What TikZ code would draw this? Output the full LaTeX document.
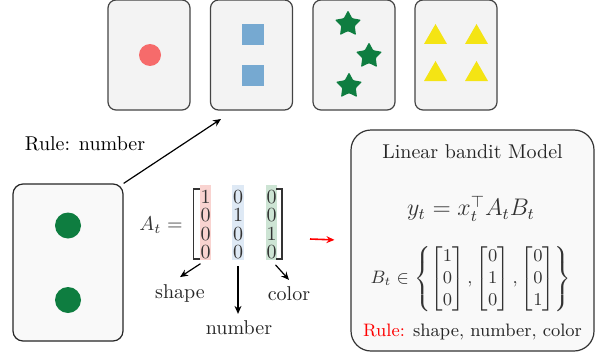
\documentclass[tikz,border=0pt]{standalone}
\usepackage{amsmath}
\usepackage{amssymb}
\usetikzlibrary{arrows.meta, positioning, calc, shapes.geometric}
\definecolor{cardfill}{HTML}{F3F3F3}
\definecolor{cardline}{HTML}{444444}
\definecolor{boxfill}{HTML}{F9F9F9}
\definecolor{cred}{HTML}{F66B6B}
\definecolor{cblue}{HTML}{76A9D1}
\definecolor{cgreen}{HTML}{0E7D40}
\definecolor{cyellow}{HTML}{F4E414}
\definecolor{hlred}{HTML}{F9D3D0}
\definecolor{hlblue}{HTML}{DEE9F5}
\definecolor{hlgreen}{HTML}{CDE4D4}
\definecolor{ctext}{HTML}{333333}

\tikzset{
  card/.style={draw=cardline, fill=cardfill, rounded corners=4pt, minimum width=41pt,
    minimum height=55pt, inner sep=0pt, line width=0.6pt},
  colhl/.style={minimum width=5.8pt, minimum height=37.5pt, inner sep=0pt},
  entry/.style={text=ctext, inner sep=0pt},
  greenstar/.style={star, star points=5, star point ratio=1.9, fill=cgreen,
    minimum size=13.6pt, inner sep=0pt, rounded corners=0.4pt},
  pointer/.style={-{Stealth[length=4pt, width=3.5pt]}, line width=0.6pt},
}

\begin{document}
\begin{tikzpicture}[x=0.5pt, y=-0.5pt]
  \useasboundingbox (0,0) rectangle (597,358);

  % Top row of cards
  \foreach \i/\x in {1/149, 2/251.5, 3/354, 4/456}{
    \node[card] (card\i) at (\x, 55) {};
  }
  % one red circle
  \fill[cred] (150,55) circle (11);
  % two blue squares
  \fill[cblue] (242,24) rectangle (264,45);
  \fill[cblue] (242,65) rectangle (264,86);
  % three green stars
  \foreach \n/\x/\y in {1/348/24, 2/369/56, 3/349/86}{
    \node[greenstar] (star\n) at (\x,\y) {};
  }
  % four yellow triangles
  \foreach \x in {435.5, 476.5}{
    \foreach \y in {34, 71}{
      \fill[cyellow] (\x-11.5,\y+10) -- (\x+11.5,\y+10) -- (\x,\y-10) -- cycle;
    }
  }

  % Dealt card (two green circles)
  \node[card, fill=boxfill, draw=black!85, minimum width=55pt, minimum height=78.5pt,
    rounded corners=5pt] (dealt) at (68,262.5) {};
  \fill[cgreen] (68,225.5) circle (13);
  \fill[cgreen] (68,300) circle (13);

  \node (rulenum) at (85,144) {Rule: number};
  \coordinate (pick) at (221,119);
  \draw[pointer] (dealt.north east) -- (pick);

  % Matrix A_t with highlighted columns
  \node[entry] (Alab) at (161,225) {$A_t =$};
  \foreach \p/\x/\hl in {1/205.5/hlred, 2/238/hlblue, 3/271.5/hlgreen}{
    \node[colhl, fill=\hl] (col\p) at (\x,222.5) {};
  }
  \foreach \r/\y/\a/\b/\s in {1/197/1/0/0, 2/215.5/0/1/0, 3/234/0/0/1, 4/252.5/0/0/0}{
    \node[entry] (e\r a) at (205.5,\y) {$\a$};
    \node[entry] (e\r b) at (238,\y) {$\b$};
    \node[entry] (e\r c) at (271.5,\y) {$\s$};
  }
  \draw[ctext, line width=0.8pt] (200,189) -- (193.5,189) -- (193.5,259) -- (200,259);
  \draw[ctext, line width=0.8pt] (276,189) -- (282,189) -- (282,259) -- (276,259);

  % Column meanings
  \node[text=black!85] (shape) at (180,293) {shape};
  \node[text=black!85] (number) at (239,328) {number};
  \node[text=black!85] (color) at (289,294) {color};
  \draw[pointer, shorten <=3pt] (col1.south) -- (shape.north);
  \draw[pointer, shorten <=3pt] (col2.south) -- (col2.south |- number.north);
  \draw[pointer, shorten <=3pt] (col3.south) -- (color.north);

  % Model box
  \node[card, fill=boxfill, draw=ctext, minimum width=121.5pt, minimum height=110.5pt,
    rounded corners=10pt] (model) at (472.5,240.5) {};
  \node[text=black!85] (title) at (472.5,152) {Linear bandit Model};
  \node[text=ctext, font=\large] (eqn) at (471,209) {$y_t = x_t^{\top} A_t B_t$};
  \node[text=ctext, font=\small] (bset) at (471,279)
    {$B_t \in \left\{ \begin{bmatrix}1\\0\\0\end{bmatrix}, \begin{bmatrix}0\\1\\0\end{bmatrix},
     \begin{bmatrix}0\\0\\1\end{bmatrix} \right\}$};
  \node[text=black!85, font=\small] (rules) at (472.5,332)
    {\textcolor{red}{Rule:} shape, number, color};

  \coordinate (redstart) at (310,239);
  \draw[red, -{Stealth[length=4pt, width=3.5pt]}, line width=0.8pt, shorten >=8pt]
    (redstart) -- (model.west);
\end{tikzpicture}
\end{document}
